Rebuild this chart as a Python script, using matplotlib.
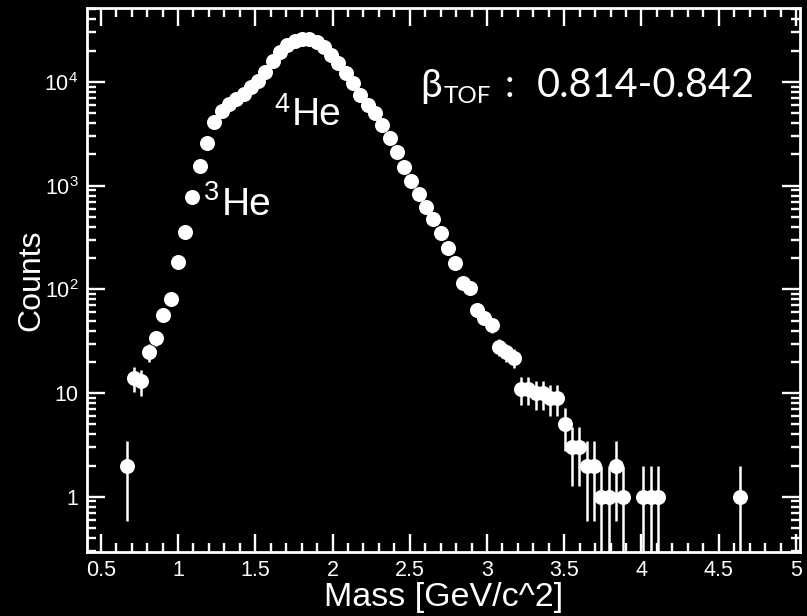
import numpy as np
import matplotlib
matplotlib.use("Agg")
import matplotlib.pyplot as plt
from matplotlib.ticker import MultipleLocator, FixedLocator, FixedFormatter, LogLocator, NullFormatter, FuncFormatter

plt.rcParams['font.family'] = ['Liberation Sans', 'DejaVu Sans']
plt.rcParams['mathtext.fontset'] = 'custom'
plt.rcParams['mathtext.rm'] = 'Liberation Sans'
plt.rcParams['mathtext.it'] = 'Liberation Sans:italic'
plt.rcParams['mathtext.bf'] = 'Liberation Sans:bold'

# Reconstructed helium mass spectrum (bin centre in GeV/c^2, counts per bin)
mass = [0.668, 0.715, 0.763, 0.810, 0.857, 0.904, 0.952, 0.999, 1.046, 1.093,
        1.141, 1.188, 1.235, 1.282, 1.330, 1.377, 1.424, 1.471, 1.519, 1.566,
        1.613, 1.660, 1.708, 1.755, 1.802, 1.849, 1.897, 1.944, 1.991, 2.038,
        2.086, 2.133, 2.180, 2.227, 2.275, 2.322, 2.369, 2.416, 2.464, 2.511,
        2.558, 2.605, 2.653, 2.700, 2.747, 2.794, 2.842, 2.889, 2.936, 2.983,
        3.031, 3.078, 3.125, 3.172, 3.220, 3.267, 3.314, 3.361, 3.409, 3.456,
        3.503, 3.550, 3.598, 3.645, 3.692, 3.739, 3.787, 3.834, 3.881, 4.012,
        4.060, 4.109, 4.637]
counts = [2, 14, 13, 25, 34, 56, 80, 185, 355, 780,
          1560, 2590, 4130, 5240, 6120, 6840, 7640, 8930, 10200, 12460,
          15900, 19420, 22690, 24800, 25900, 25900, 24270, 21700, 18160, 15200,
          12190, 9750, 7480, 5990, 5010, 3830, 2870, 2110, 1520, 1110,
          824, 626, 477, 347, 252, 178, 114, 102, 63, 53,
          45, 28, 25, 22, 11, 11, 10, 10, 9, 9,
          5, 3, 3, 2, 2, 1, 1, 2, 1, 1,
          1, 1, 1]

x_ticks = [0.5, 1, 1.5, 2, 2.5, 3, 3.5, 4, 4.5, 5]
y_ticks = [1, 10, 100, 1000, 10000]
y_tick_labels = ['1', '10', r'$\mathregular{10^{2}}$', r'$\mathregular{10^{3}}$', r'$\mathregular{10^{4}}$']

W, H = 807, 616
fig = plt.figure(figsize=(W / 100, H / 100), dpi=100, facecolor='black')
ax_l, ax_r, ax_t, ax_b = 86.7, 800.0, 8.0, 551.7
ax = fig.add_axes([ax_l / W, 1 - ax_b / H, (ax_r - ax_l) / W, (ax_b - ax_t) / H])
ax.set_facecolor('black')

m = np.array(mass)
c = np.array(counts, dtype=float)
err_hi = np.sqrt(c)
err_lo = np.minimum(np.sqrt(c), c * 0.999)

ax.errorbar(m, c, yerr=[err_lo, err_hi], fmt='o', color='white', ms=10.8,
            mec='white', mew=0, elinewidth=1.8, capsize=0, zorder=3)

ax.set_yscale('log')
ax.set_xlim(0.409, 5.026)
ax.set_ylim(0.295, 5.16e4)

ax.xaxis.set_major_locator(FixedLocator(x_ticks))
ax.xaxis.set_major_formatter(FuncFormatter(lambda v, p: '%g' % v))
ax.xaxis.set_minor_locator(MultipleLocator(0.1))
ax.yaxis.set_major_locator(FixedLocator(y_ticks))
ax.yaxis.set_major_formatter(FixedFormatter(y_tick_labels))
ax.yaxis.set_minor_locator(LogLocator(base=10, subs=np.arange(2, 10)))
ax.yaxis.set_minor_formatter(NullFormatter())

ax.tick_params(which='both', direction='in', top=True, right=True,
               colors='white', labelcolor='white', width=1.7)
ax.tick_params(which='major', length=13, labelsize=15.5, pad=6)
ax.tick_params(which='minor', length=6.5)
for s in ax.spines.values():
    s.set_color('white')
    s.set_linewidth(2.0)

ax.set_xlabel('Mass [GeV/c^2]', color='white', fontsize=24.5)
ax.xaxis.set_label_coords(0.5, -0.056)
ax.set_ylabel('Counts', color='white', fontsize=23)
ax.yaxis.set_label_coords(-0.056, 0.5)


def px(x, y):
    return x / W, 1 - y / H


# isotope labels
fig.text(*px(274, 112), '4', color='white', fontsize=19.5, va='baseline')
fig.text(*px(292, 125), 'He', color='white', fontsize=28, va='baseline')
fig.text(*px(204, 200), '3', color='white', fontsize=19.5, va='baseline')
fig.text(*px(222, 215), 'He', color='white', fontsize=28, va='baseline')

# velocity selection
beta_font = ['Lato', 'DejaVu Sans']
fig.text(*px(420, 96.7), 'β', color='white', fontsize=28, family=beta_font, va='baseline')
fig.text(*px(444, 103.3), 'TOF', color='white', fontsize=17.5, family=beta_font, va='baseline')
fig.text(*px(509, 97), ':', color='white', fontsize=28, family=beta_font, va='baseline', ha='center')
fig.text(*px(536.7, 96.7), '0.814-0.842', color='white', fontsize=28.5, family=beta_font, va='baseline')

fig.savefig('out.png', dpi=100, facecolor='black')
